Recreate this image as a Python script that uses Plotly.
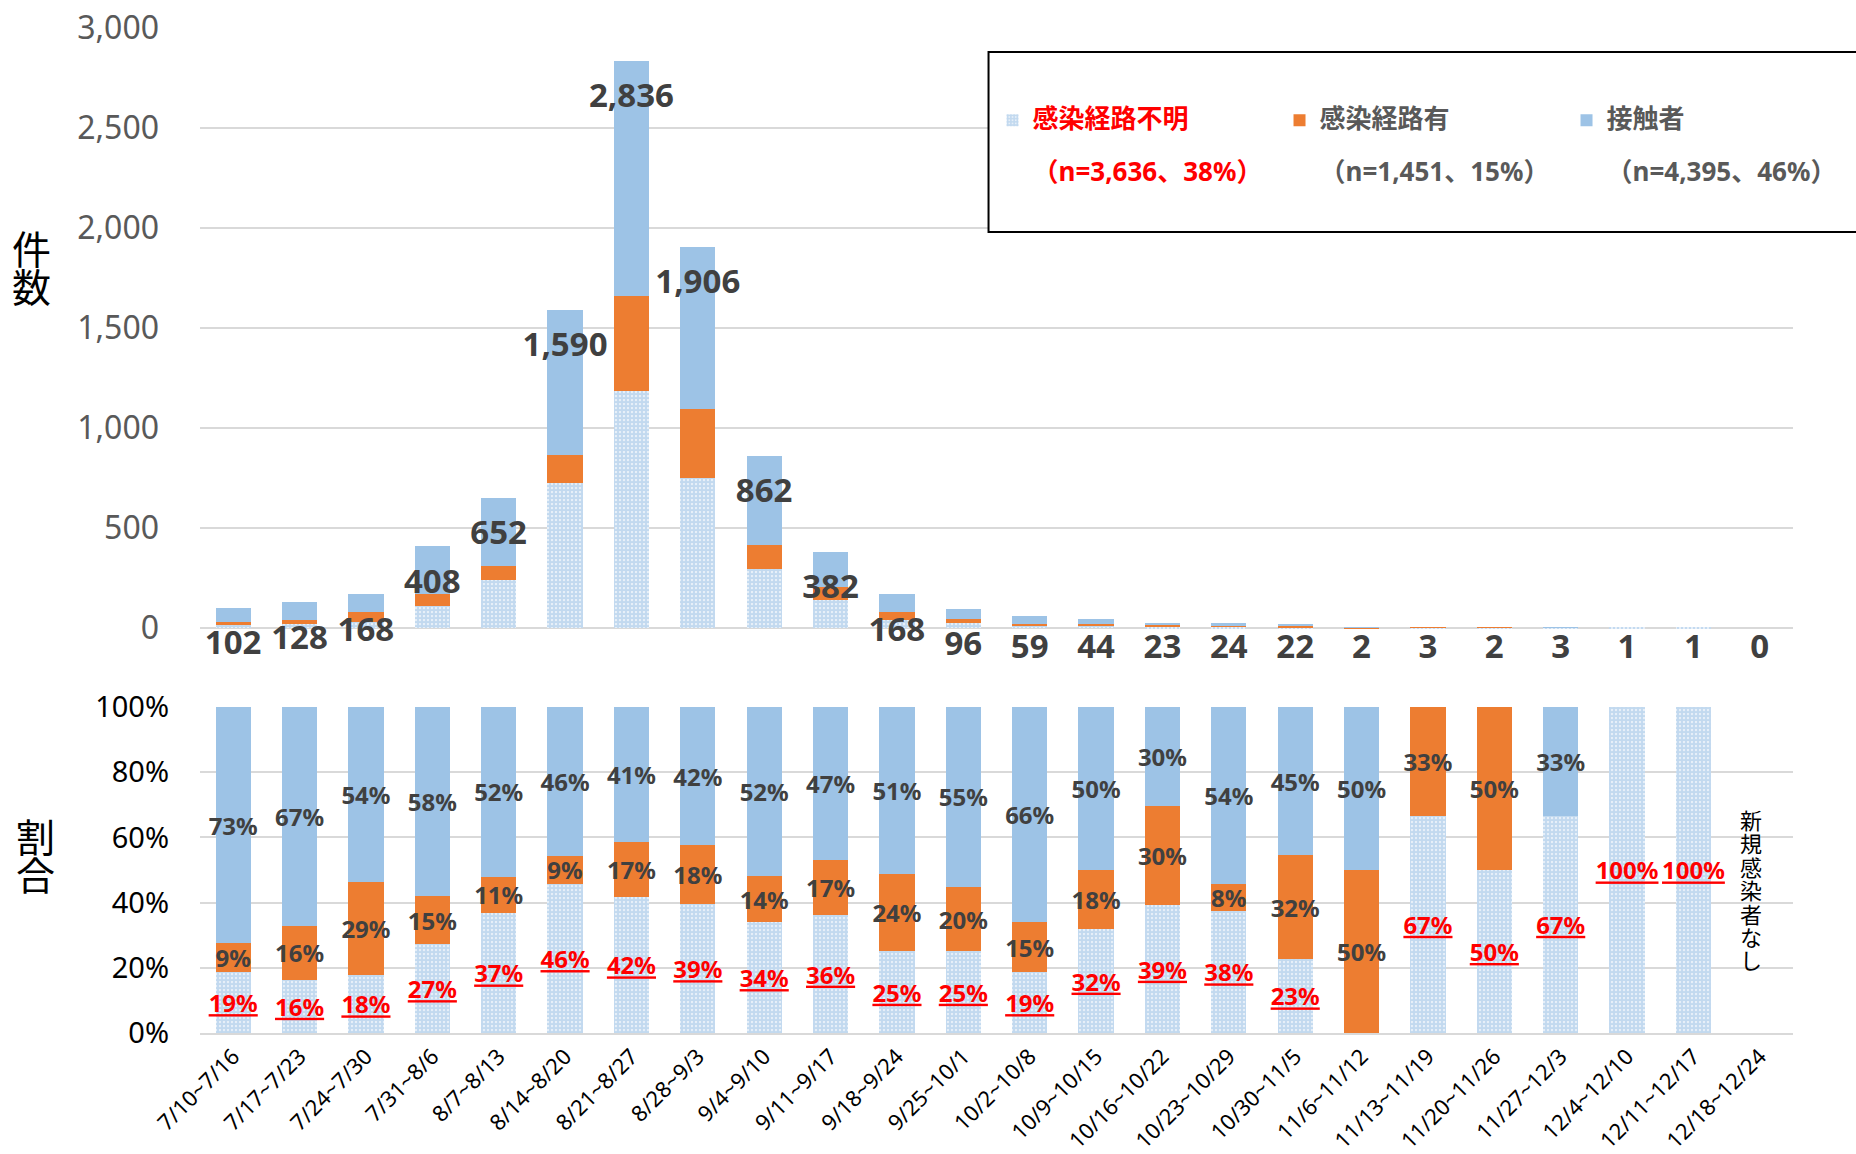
import plotly.graph_objects as go
import numpy as np

weeks = ["7/10~7/16", "7/17~7/23", "7/24~7/30", "7/31~8/6", "8/7~8/13", "8/14~8/20",
         "8/21~8/27", "8/28~9/3", "9/4~9/10", "9/11~9/17", "9/18~9/24", "9/25~10/1",
         "10/2~10/8", "10/9~10/15", "10/16~10/22", "10/23~10/29", "10/30~11/5", "11/6~11/12",
         "11/13~11/19", "11/20~11/26", "11/27~12/3", "12/4~12/10", "12/11~12/17", "12/18~12/24"]

unknown = [19, 21, 30, 111, 240, 726, 1185, 752, 293, 138, 42, 24, 11, 14, 9, 9, 5, 0, 2, 1, 2, 1, 1, 0]
known   = [9, 21, 48, 60, 72, 138, 476, 346, 121, 65, 40, 19, 9, 8, 7, 2, 7, 1, 1, 1, 0, 0, 0, 0]
contact = [74, 86, 90, 237, 340, 726, 1175, 808, 448, 179, 86, 53, 39, 22, 7, 13, 10, 1, 0, 0, 1, 0, 0, 0]
totals  = [102, 128, 168, 408, 652, 1590, 2836, 1906, 862, 382, 168, 96, 59, 44, 23, 24, 22, 2, 3, 2, 3, 1, 1, 0]

pct_unknown = [19, 16, 18, 27, 37, 46, 42, 39, 34, 36, 25, 25, 19, 32, 39, 38, 23, 0, 67, 50, 67, 100, 100, 0]
pct_known   = [9, 16, 29, 15, 11, 9, 17, 18, 14, 17, 24, 20, 15, 18, 30, 8, 32, 50, 33, 50, 0, 0, 0, 0]
pct_contact = [73, 67, 54, 58, 52, 46, 41, 42, 52, 47, 51, 55, 66, 50, 30, 54, 45, 50, 0, 0, 33, 0, 0, 0]

series_names = ["感染経路不明", "感染経路有", "接触者"]
no_case_note = "新規感染者なし"
top_title = "件数"
bottom_title = "割合"

BLUE = "#9DC3E6"
DOT = "#86B4E0"
ORANGE = "#ED7D31"
RED = "#FF0000"
DARK = "#404040"
GRAY = "#595959"
GRID = "#D9D9D9"
FONT = "Noto Sans, Noto Sans CJK JP, sans-serif"

tot = np.array(totals, dtype=float)
safe = np.where(tot > 0, tot, 1)
h_unknown = np.array(unknown) / safe * 100
h_known = np.array(known) / safe * 100
h_contact = np.array(contact) / safe * 100

grand = sum(unknown) + sum(known) + sum(contact)
def legend_name(name, n, color):
    pct = round(n / grand * 100)
    return (f"<span style='font-size:26px;color:{color};font-weight:bold'>{name}</span><br><br>"
            f"<span style='font-size:26px;color:{color};font-weight:bold'>（n={n:,}、{pct}%）</span>")

def vertical(text, size):
    return "<br>".join(f"<span style='font-size:{size}px'>{c}</span>" for c in text)

pattern = dict(shape=".", fgcolor=DOT, bgcolor="white", size=4, solidity=0.8)

fig = go.Figure()
# top panel
fig.add_trace(go.Bar(x=weeks, y=unknown, name=legend_name(series_names[0], sum(unknown), RED),
                     marker=dict(color="white", pattern=pattern, line_width=0),
                     xaxis="x", yaxis="y", hoverinfo="skip"))
fig.add_trace(go.Bar(x=weeks, y=known, name=legend_name(series_names[1], sum(known), GRAY),
                     marker=dict(color=ORANGE, line_width=0), xaxis="x", yaxis="y", hoverinfo="skip"))
fig.add_trace(go.Bar(x=weeks, y=contact, name=legend_name(series_names[2], sum(contact), GRAY),
                     marker=dict(color=BLUE, line_width=0), xaxis="x", yaxis="y", hoverinfo="skip"))
label_y = np.maximum(tot - 190, -108)
fig.add_trace(go.Scatter(x=weeks, y=label_y, mode="text", text=[f"{t:,}" for t in totals],
                         textposition="middle center", cliponaxis=False, showlegend=False,
                         textfont=dict(family=FONT, size=33, color=DARK, weight="bold"),
                         xaxis="x", yaxis="y", hoverinfo="skip"))

# bottom panel
def lab(p):
    return [f"{v}%" if v > 0 else "" for v in p]

common = dict(xaxis="x2", yaxis="y2", showlegend=False, textposition="inside",
              insidetextanchor="middle", textangle=0, constraintext="none", hoverinfo="skip")
fig.add_trace(go.Bar(x=weeks, y=h_unknown, text=lab(pct_unknown),
                     marker=dict(color="white", pattern=pattern, line_width=0),
                     insidetextfont=dict(family=FONT, size=24, color=RED, weight="bold", lineposition="under"),
                     **common))
fig.add_trace(go.Bar(x=weeks, y=h_known, text=lab(pct_known), marker=dict(color=ORANGE, line_width=0),
                     insidetextfont=dict(family=FONT, size=24, color=DARK, weight="bold"), **common))
fig.add_trace(go.Bar(x=weeks, y=h_contact, text=lab(pct_contact), marker=dict(color=BLUE, line_width=0),
                     insidetextfont=dict(family=FONT, size=24, color=DARK, weight="bold"), **common))

annotations = [
    dict(xref="paper", yref="paper", x=-0.1057, y=0.762, xanchor="center", yanchor="middle",
         showarrow=False, text=vertical(top_title, 39), font=dict(family=FONT, size=29, color="black")),
    dict(xref="paper", yref="paper", x=-0.103, y=0.177, xanchor="center", yanchor="middle",
         showarrow=False, text=vertical(bottom_title, 39), font=dict(family=FONT, size=29, color="black")),
    dict(xref="x2", yref="y2", x=weeks[-1], y=44, xanchor="center", yanchor="middle", xshift=-9,
         showarrow=False, text=vertical(no_case_note, 22), font=dict(family=FONT, size=18, color="black")),
]

fig.update_layout(
    width=1856, height=1154,
    margin=dict(l=200, r=63, t=28, b=121, autoexpand=False),
    paper_bgcolor="white", plot_bgcolor="white",
    barmode="stack", bargap=0.47,
    font=dict(family=FONT, color="black"),
    xaxis=dict(domain=[0, 1], anchor="y", showticklabels=False, showgrid=False, ticks="",
               showline=False, range=[-0.5, 23.5], automargin=False,
               categoryorder="array", categoryarray=weeks),
    yaxis=dict(domain=[0.3731, 1], range=[-150, 3001], tickvals=[0, 500, 1000, 1500, 2000, 2500, 3000],
               tickformat=",d", showgrid=True, gridcolor=GRID, gridwidth=2, zeroline=False, ticks="",
               automargin=False,
               tickfont=dict(family=FONT, size=32, color=GRAY), ticklabelstandoff=40),
    xaxis2=dict(domain=[0, 1], anchor="y2", showgrid=False, ticks="", tickangle=-45,
                showline=True, linecolor=GRID, linewidth=2, range=[-0.5, 23.5], automargin=False,
                tickfont=dict(family=FONT, size=22, color="black"),
                categoryorder="array", categoryarray=weeks),
    yaxis2=dict(domain=[0, 0.3254], range=[0, 100.3], tick0=0, dtick=20, ticksuffix="%",
                showgrid=True, gridcolor=GRID, gridwidth=2, zeroline=False, ticks="", automargin=False,
                tickfont=dict(family=FONT, size=29, color="black"), ticklabelstandoff=30),
    legend=dict(orientation="h", x=0.4975, y=0.928, xanchor="left", yanchor="top",
                bgcolor="rgba(0,0,0,0)", borderwidth=0, valign="top", traceorder="normal",
                entrywidth=242, entrywidthmode="pixels",
                font=dict(family=FONT, size=20.5, color=GRAY)),
    shapes=[dict(type="rect", xref="paper", yref="paper", x0=0.495, x1=1.06, y0=0.797, y1=0.976,
                 line=dict(color="black", width=2), fillcolor="white", layer="above")],
    annotations=annotations,
)

fig.write_html("out.html", config={"displayModeBar": False},
               post_script="document.body.style.margin='0';")
